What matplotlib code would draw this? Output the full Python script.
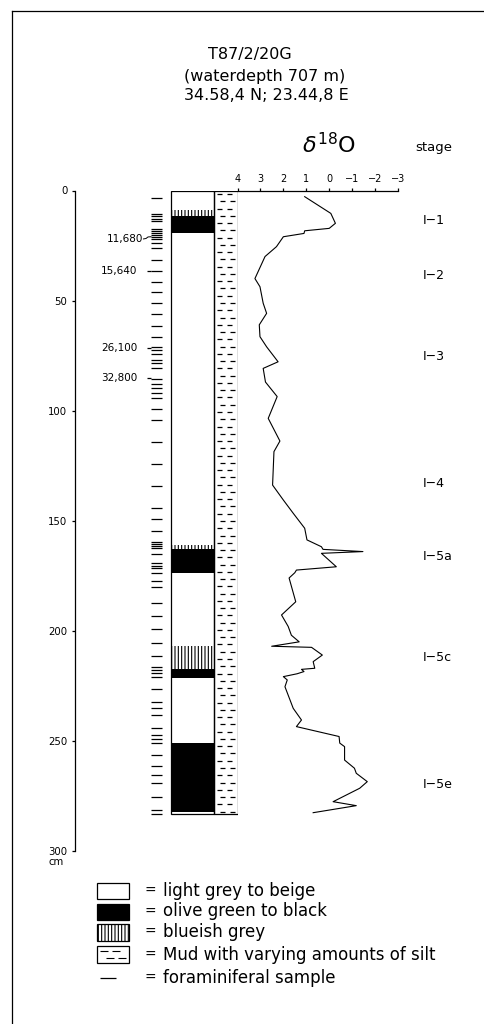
import numpy as np
import matplotlib
matplotlib.use("Agg")
import matplotlib.pyplot as plt
from matplotlib.patches import Rectangle

plt.rcParams['font.family'] = ['DejaVu Sans']
plt.rcParams['hatch.linewidth'] = 0.8

# delta 18O curve (depth cm, per mil)
iso_depth = [2.8, 10.4, 14.9, 17.2, 18.3, 19.5, 21.0, 25.5, 30.0, 40.0, 43.7,
             51.2, 55.8, 61.0, 66.4, 71.0, 77.8, 80.8, 87.0, 93.6, 103.5,
             113.8, 118.6, 133.8, 140.6, 146.6, 153.4, 158.7, 161.8, 163.0,
             164.0, 164.8, 170.9, 172.4, 173.6, 176.0, 186.8, 192.8, 198.0,
             202.0, 205.0, 207.0, 207.5, 211.0, 214.0, 217.0, 217.5, 218.5,
             219.5, 220.8, 222.3, 225.4, 235.2, 240.5, 243.5, 248.0, 251.0,
             252.6, 258.7, 262.4, 264.7, 268.5, 271.5, 277.6, 279.4, 282.6]
iso_val = [1.07, -0.07, -0.27, 0.0, 1.07, 1.1, 2.0, 2.3, 2.8, 3.24, 3.02,
           2.88, 2.73, 3.05, 3.02, 2.73, 2.23, 2.88, 2.78, 2.27, 2.66,
           2.15, 2.41, 2.47, 2.0, 1.57, 1.07, 0.97, 0.34, 0.27,
           -1.47, 0.34, -0.31, 1.43, 1.5, 1.75, 1.46, 2.08, 1.79,
           1.65, 1.31, 2.51, 0.77, 0.3, 0.7, 0.63, 1.21, 1.1,
           1.4, 2.0, 1.83, 1.93, 1.57, 1.21, 1.43, -0.43, -0.46,
           -0.67, -0.67, -1.1, -1.18, -1.66, -1.33, -0.17, -1.18, 0.7]

# lithology: top, bottom, type
lith_top = [0, 8.9, 11.6, 19.5, 161.0, 162.9, 173.6, 207.0, 217.5, 221.6, 251.0, 282.1]
lith_bot = [8.9, 11.6, 19.5, 161.0, 162.9, 173.6, 207.0, 217.5, 221.6, 251.0, 282.1, 283.3]
lith_type = ['light', 'blue', 'olive', 'light', 'blue', 'olive', 'light',
             'blue', 'olive', 'light', 'olive', 'light']
core_bottom = 283.3

# foraminiferal samples (depth cm)
samples = [3.2, 10.6, 11.8, 12.9, 14.0, 17.4, 18.3, 19.2, 20.1, 21.0, 21.9,
           24.0, 26.3, 31.4, 36.6, 41.4, 46.2, 51.2, 56.3, 61.4, 66.4, 71.0,
           72.6, 74.1, 76.8, 78.5, 80.6, 85.5, 88.1, 89.9, 91.8, 94.2, 99.4,
           104.3, 114.2, 124.3, 134.2, 144.3, 149.3, 154.5, 159.5, 160.6,
           161.6, 162.6, 164.9, 169.2, 170.4, 171.6, 173.6, 177.4, 180.3,
           187.5, 193.3, 199.3, 205.6, 211.4, 216.2, 217.8, 219.3, 221.0,
           226.4, 232.2, 235.2, 238.2, 244.3, 247.3, 249.0, 251.1, 256.2,
           261.3, 265.3, 269.3, 275.5, 281.4, 283.2]

# 14C ages
age_labels = ['11,680', '15,640', '26,100', '32,800']
age_depth = [22.0, 36.6, 71.7, 85.3]

stage_labels = ['I\u22121', 'I\u22122', 'I\u22123', 'I\u22124', 'I\u22125a', 'I\u22125c', 'I\u22125e']
stage_depth = [13.4, 38.4, 75.2, 133.3, 166.3, 212.2, 269.6]

iso_ticks = [4, 3, 2, 1, 0, -1, -2, -3]
depth_ticks = [0, 50, 100, 150, 200, 250, 300]

legend_names = ['light grey to beige', 'olive green to black', 'blueish grey',
                'Mud with varying amounts of silt', 'foraminiferal sample']

W, H = 484, 1024
fig = plt.figure(figsize=(W / 100, H / 100), dpi=100)

y_top_px, y_bot_px = 190.5, 851.0
ax_y = 1 - y_bot_px / H
ax_h = (y_bot_px - y_top_px) / H


def frac(x0, x1):
    return x0 / W, (x1 - x0) / W


# overlay in pixel coordinates for title, frame and legend
ov = fig.add_axes([0, 0, 1, 1])
ov.set_xlim(0, W)
ov.set_ylim(H, 0)
ov.axis('off')
ov.plot([12, W], [11, 11], color='black', lw=0.9)
ov.plot([12, 12], [11, H], color='black', lw=0.9)

ov.text(250, 55, 'T87/2/20G', ha='center', va='center', fontsize=11.5)
ov.text(265, 77, '(waterdepth 707 m)', ha='center', va='center', fontsize=11.5)
ov.text(266, 96, '34.58,4 N; 23.44,8 E', ha='center', va='center', fontsize=11.5)
ov.text(329, 145, r'$\delta^{18}$O', ha='center', va='center', fontsize=16)
ov.text(434, 148, 'stage', ha='center', va='center', fontsize=9.5)

# depth axis
l, w = frac(75, 140)
ax_d = fig.add_axes([l, ax_y, w, ax_h])
ax_d.set_ylim(300, 0)
ax_d.set_xticks([])
for s in ['top', 'right', 'bottom']:
    ax_d.spines[s].set_visible(False)
ax_d.spines['left'].set_linewidth(0.9)
ax_d.set_yticks(depth_ticks)
ax_d.tick_params(axis='y', length=2.5, width=0.9, pad=3, labelsize=7.3)
ax_d.patch.set_alpha(0)
ax_d.text(-0.29, 305, 'cm', transform=ax_d.get_yaxis_transform(),
          ha='center', va='center', fontsize=7.3)

# core column (x in pixel units)
l, w = frac(130, 237.5)
ax_c = fig.add_axes([l, ax_y, w, ax_h])
ax_c.set_xlim(130, 237.5)
ax_c.set_ylim(300, 0)
ax_c.axis('off')
lith_style = {'light': dict(color='white'),
              'olive': dict(color='black'),
              'blue': dict(color='white', hatch='|||||')}
for t, b, k in zip(lith_top, lith_bot, lith_type):
    ax_c.bar(192.5, b - t, bottom=t, width=43, edgecolor='black', lw=0,
             **lith_style[k])
ax_c.bar(192.5, core_bottom, bottom=0, width=43, fill=False, edgecolor='black', lw=0.9)
ax_c.bar(225.75, core_bottom, bottom=0, width=23.5, fill=False, edgecolor='black', lw=0.9)
rows = np.arange(1.6, core_bottom - 1, 3.3)
for i, r in enumerate(rows):
    off = 0 if i % 2 == 0 else 3.5
    ax_c.hlines([r, r], [216.5 + off, 226.5 + off], [221.5 + off, 231.5 + off],
                color='black', lw=0.9)
ax_c.hlines(samples, 151, 162, color='black', lw=0.9)
for lab, d in zip(age_labels, age_depth):
    if lab == '11,680':
        ax_c.plot([143.5, 146, 148, 151], [d, d - 0.2, d - 0.9, d - 1.0], color='black', lw=0.7)
        ax_c.text(143, d, lab, ha='right', va='center', fontsize=7.5)
    else:
        ax_c.hlines(d, 147, 151, color='black', lw=0.9)
        ax_c.text(137, d, lab, ha='right', va='center', fontsize=7.5)

# delta 18O axis
l, w = frac(237.5, 398)
ax_i = fig.add_axes([l, ax_y, w, ax_h])
ax_i.set_xlim(4, -3)
ax_i.set_ylim(300, 0)
ax_i.patch.set_alpha(0)
for s in ['left', 'right', 'bottom']:
    ax_i.spines[s].set_visible(False)
ax_i.spines['top'].set_linewidth(0.9)
ax_i.xaxis.tick_top()
ax_i.set_xticks(iso_ticks)
ax_i.set_xticklabels([str(v).replace('-', '\u2212') for v in iso_ticks])
ax_i.tick_params(axis='x', length=2.5, width=0.9, pad=2, labelsize=7)
ax_i.set_yticks([])
ax_i.plot(iso_val, iso_depth, color='black', lw=0.8, clip_on=False)
for lab, d in zip(stage_labels, stage_depth):
    ax_i.text(1.155, d, lab, transform=ax_i.get_yaxis_transform(),
              ha='left', va='center', fontsize=9)

# legend
rows_y = [891, 911.5, 932, 954.5, 978]
ov.add_patch(Rectangle((97, 883), 32, 16, facecolor='white', edgecolor='black', lw=0.9))
ov.add_patch(Rectangle((97, 903.5), 32, 16.5, facecolor='black', edgecolor='black', lw=0.9))
ov.add_patch(Rectangle((97, 924), 32, 16.5, facecolor='white', edgecolor='black',
                       lw=0.9, hatch='|||||'))
ov.add_patch(Rectangle((97, 946), 32, 17, facecolor='white', edgecolor='black', lw=0.9))
ov.hlines([951, 951, 958, 958], [100, 112, 106, 118], [108, 120, 114, 126], color='black', lw=0.8)
ov.hlines(978, 100, 116, color='black', lw=0.9)
for y, name in zip(rows_y, legend_names):
    ov.text(145, y, '=', ha='left', va='center', fontsize=10)
    ov.text(163, y, name, ha='left', va='center', fontsize=12)

fig.savefig('out.png', dpi=100)
